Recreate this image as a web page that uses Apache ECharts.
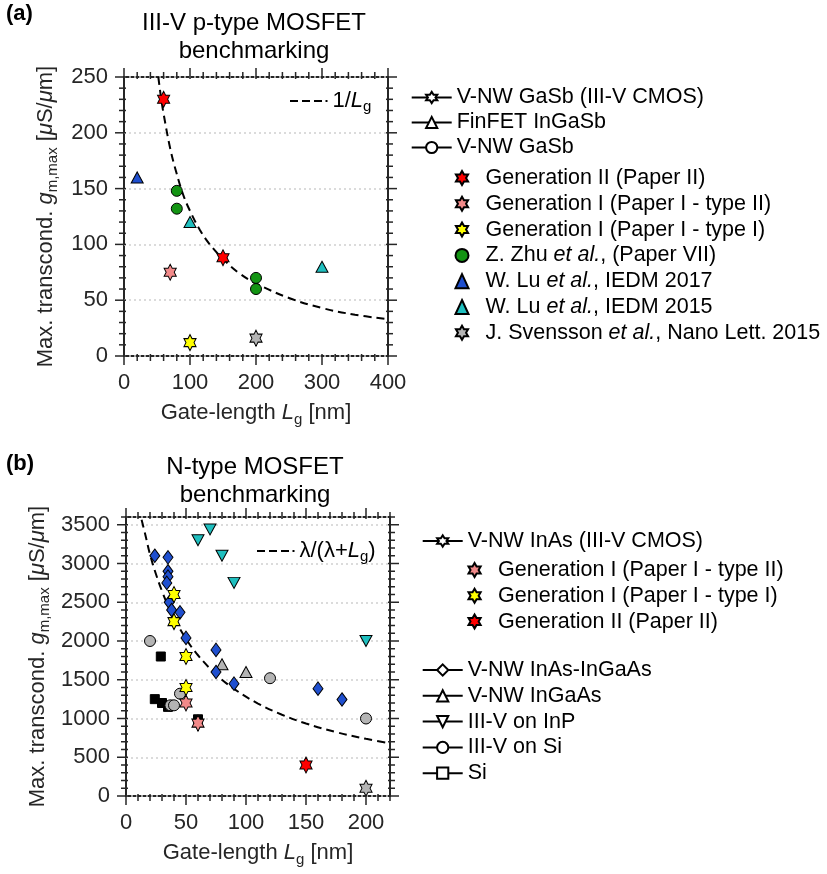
<!DOCTYPE html>
<html>
<head>
<meta charset="utf-8">
<script src="https://cdn.jsdelivr.net/npm/echarts@6/dist/echarts.min.js"></script>
<style>
  html, body { margin: 0; padding: 0; background: #fff; }
  #chart { width: 827px; height: 874px; }
</style>
</head>
<body>
<div id="chart"></div>
<script>
// ---------- Panel (a): III-V p-type MOSFETs, [Lg (nm), gm,max (uS/um)] ----------
const aGenII      = [[60, 230], [150, 88]];
const aGenIType2  = [[70, 75]];
const aGenIType1  = [[100, 12]];
const aZhu        = [[80, 148], [80, 132], [200, 70], [200, 60]];
const aLu2017     = [[20, 160]];
const aLu2015     = [[100, 120], [300, 80]];
const aSvensson   = [[200, 16]];
const aTrendLg    = [52, 56, 60, 70, 80, 90, 100, 115, 130, 150, 175, 200, 250, 300, 350, 400];
const aTrendGm    = [250, 232, 217, 186, 163, 144, 130, 113, 100, 87, 74, 65, 52, 43, 37, 33];
const aXTicks     = [0, 100, 200, 300, 400];
const aYTicks     = [0, 50, 100, 150, 200, 250];

// ---------- Panel (b): N-type MOSFETs ----------
const bGenIType2   = [[50, 1200], [60, 940]];
const bGenIType1   = [[40, 2600], [40, 2250], [50, 1800], [50, 1400]];
const bGenII       = [[150, 400]];
const bSvensson    = [[200, 100]];
const bInAsInGaAs  = [[24, 3100], [35, 3080], [35, 2900], [35, 2830], [34, 2750], [36, 2500],
                      [38, 2400], [45, 2370], [50, 2040], [75, 1885], [75, 1600], [90, 1450],
                      [160, 1385], [180, 1245]];
const bInGaAs      = [[80, 1700], [100, 1600]];
const bInP         = [[60, 3300], [70, 3440], [80, 3100], [90, 2750], [200, 2000]];
const bOnSi        = [[20, 2000], [37, 1170], [40, 1170], [45, 1320], [120, 1520], [200, 1000]];
const bSi          = [[29, 1800], [24, 1250], [30, 1200], [35, 1150], [60, 990]];
const bTrendLg     = [13, 16, 20, 25, 30, 35, 40, 50, 60, 75, 90, 110, 130, 150, 175, 200, 220];
const bTrendGm     = [3565, 3378, 3118, 2862, 2644, 2457, 2295, 2028, 1816, 1570, 1383, 1193, 1049, 936, 825, 738, 680];
const bXTicks      = [0, 50, 100, 150, 200];
const bYTicks      = [0, 500, 1000, 1500, 2000, 2500, 3000, 3500];

// ---------- styling ----------
const FONT = '"Liberation Sans", Arial, Helvetica, sans-serif';
const INK = '#262626';
const HEXAGRAM = 'path://M866 0L1155 500L1732 500L1443 1000L1732 1500L1155 1500L866 2000L577 1500L0 1500L289 1000L0 500L577 500Z';
const DASHES = 'path://M0 0H8V2H0Z M12 0H20V2H12Z M24 0H32V2H24Z M35.5 0H37.5V2H35.5Z';

const RED = '#ff0000', PINK = '#f28a8a', YELLOW = '#ffff00', GREEN = '#139413',
      BLUE = '#1f4fcf', CYAN = '#1fbfbf', GRAY = '#b4b4b4', BLACK = '#000000';

const pairs = (xs, ys) => xs.map((x, i) => [x, ys[i]]);
const steps = (lo, hi, step) => { const out = []; for (let v = lo; v <= hi + 1e-9; v += step) out.push(v); return out; };

const richBase = {
  t: { fontSize: 22, fontFamily: FONT, color: INK, lineHeight: 28 },
  i: { fontSize: 22, fontFamily: FONT, color: INK, fontStyle: 'italic', lineHeight: 28 },
  s: { fontSize: 15, fontFamily: FONT, color: INK, lineHeight: 16, verticalAlign: 'bottom' }
};

// Axes: one labelled x/y pair per panel; the frame comes from the grid border,
// tick marks are drawn on all four sides by a custom series (see boxTicks).
function panelAxes(grid, xr, yr) {
  const lbl = { color: INK, fontSize: 22, fontFamily: FONT, margin: 16, formatter: (v) => String(v) };
  return {
    x: {
      type: 'value', gridIndex: grid, position: 'bottom', min: xr.min, max: xr.max,
      interval: xr.ticks[1] - xr.ticks[0],
      axisLine: { show: false }, axisTick: { show: false },
      axisLabel: Object.assign({ customValues: xr.ticks }, lbl),
      splitLine: { show: false },
      name: '{t|Gate-length }{i|L}{s|g}{t| [nm]}', nameLocation: 'middle', nameGap: xr.nameGap,
      nameTextStyle: { rich: richBase }
    },
    y: {
      type: 'value', gridIndex: grid, position: 'left', min: yr.min, max: yr.max,
      interval: yr.ticks[1] - yr.ticks[0],
      axisLine: { show: false }, axisTick: { show: false },
      axisLabel: Object.assign({ customValues: yr.ticks }, lbl),
      splitLine: { show: true, lineStyle: { color: '#cfcfcf', width: 1.5, type: [2, 3] } },
      name: '{t|Max. transcond. }{i|g}{s|m,max}{t| [}{i|\u03bc}{t|S/}{i|\u03bc}{t|m]}',
      nameLocation: 'middle', nameGap: yr.nameGap, nameTextStyle: { rich: richBase }
    }
  };
}

const rangeA = { x: { min: 0, max: 400, ticks: aXTicks, minor: 20, nameGap: 43 },
                 y: { min: 0, max: 250, ticks: aYTicks, minor: 10, nameGap: 64 } };
const rangeB = { x: { min: 0, max: 220, ticks: bXTicks, minor: 10, nameGap: 43 },
                 y: { min: 0, max: 3600, ticks: bYTicks, minor: 100, nameGap: 74 } };
const axA = panelAxes(0, rangeA.x, rangeA.y);
const axB = panelAxes(1, rangeB.x, rangeB.y);

// tick marks on the four sides of a panel frame; item = [x, y, length, direction]
function boxTicks(panel, r) {
  const items = [];
  const MAJOR = 9, MINOR = 5;
  steps(r.x.min, r.x.max, r.x.minor).forEach((v) =>
    items.push([v, r.y.min, r.x.ticks.includes(v) ? MAJOR : MINOR, 0]));
  steps(r.y.min, r.y.max, r.y.minor).forEach((v) =>
    items.push([r.x.min, v, r.y.ticks.includes(v) ? MAJOR : MINOR, 1]));
  const IN = 2;
  return {
    type: 'custom', name: 'frame ticks ' + panel, coordinateSystem: 'cartesian2d',
    xAxisIndex: panel === 'a' ? 0 : 1, yAxisIndex: panel === 'a' ? 0 : 1,
    data: items, silent: true, clip: false, z: 5, encode: { x: 0, y: 1 },
    renderItem: (params, api) => {
      const len = api.value(2), dir = api.value(3);
      const style = { stroke: INK, lineWidth: 1.5 };
      if (dir === 0) {
        const v = api.value(0);
        const b = api.coord([v, r.y.min]), t = api.coord([v, r.y.max]);
        return { type: 'group', children: [
          { type: 'line', shape: { x1: b[0], y1: b[1] - IN, x2: b[0], y2: b[1] + len }, style },
          { type: 'line', shape: { x1: t[0], y1: t[1] + IN, x2: t[0], y2: t[1] - len }, style }
        ] };
      }
      const v = api.value(1);
      const l = api.coord([r.x.min, v]), rt = api.coord([r.x.max, v]);
      return { type: 'group', children: [
        { type: 'line', shape: { x1: l[0] + IN, y1: l[1], x2: l[0] - len, y2: l[1] }, style },
        { type: 'line', shape: { x1: rt[0] - IN, y1: rt[1], x2: rt[0] + len, y2: rt[1] }, style }
      ] };
    }
  };
}

function scatter(name, data, panel, symbol, size, color, extra) {
  return Object.assign({
    name, type: 'scatter', data,
    xAxisIndex: panel === 'a' ? 0 : 1, yAxisIndex: panel === 'a' ? 0 : 1,
    symbol, symbolSize: size, symbolKeepAspect: true,
    itemStyle: { color, borderColor: '#000', borderWidth: 1, opacity: 1 },
    emphasis: { disabled: true }
  }, extra || {});
}
function header(name, symbol, extra) {
  return Object.assign({
    name, type: 'line', data: [], xAxisIndex: 0, yAxisIndex: 0, symbol,
    itemStyle: { color: '#fff', borderColor: '#000', borderWidth: 1.5 },
    lineStyle: { color: '#000', width: 2 }
  }, extra || {});
}
function trend(name, data, panel) {
  return {
    name, type: 'line', data, xAxisIndex: panel === 'a' ? 0 : 1, yAxisIndex: panel === 'a' ? 0 : 1,
    symbol: 'none', smooth: 0.4, z: 1,
    itemStyle: { color: '#000' },
    lineStyle: { color: '#000', width: 2, type: [8, 5] }
  };
}

const STAR = [14, 16], DIAMOND = [10, 13.5], TRI = [12, 11];

const series = [
  trend('1/Lg', pairs(aTrendLg, aTrendGm), 'a'),
  trend('lambda', pairs(bTrendLg, bTrendGm), 'b'),
  boxTicks('a', rangeA),
  boxTicks('b', rangeB),
  // legend-only header entries
  header('V-NW GaSb (III-V CMOS)', HEXAGRAM),
  header('FinFET InGaSb', 'triangle'),
  header('V-NW GaSb', 'circle'),
  header('V-NW InAs (III-V CMOS)', HEXAGRAM),
  header('V-NW InAs-InGaAs', 'diamond'),
  header('V-NW InGaAs', 'triangle'),
  header('III-V on InP', 'triangle', { symbolRotate: 180 }),
  header('III-V on Si', 'circle'),
  header('Si', 'rect'),
  // panel (a)
  scatter('J. Svensson et al., Nano Lett. 2015', aSvensson, 'a', HEXAGRAM, STAR, GRAY),
  scatter('W. Lu et al., IEDM 2015', aLu2015, 'a', 'triangle', TRI, CYAN),
  scatter('W. Lu et al., IEDM 2017', aLu2017, 'a', 'triangle', TRI, BLUE),
  scatter('Z. Zhu et al., (Paper VII)', aZhu, 'a', 'circle', 11, GREEN),
  scatter('Generation I (Paper I - type I)', aGenIType1, 'a', HEXAGRAM, STAR, YELLOW),
  scatter('Generation I (Paper I - type II)', aGenIType2, 'a', HEXAGRAM, STAR, PINK),
  scatter('Generation II (Paper II)', aGenII, 'a', HEXAGRAM, STAR, RED),
  // panel (b)
  scatter('Si (b)', bSi, 'b', 'rect', 9, BLACK),
  scatter('III-V on Si (b)', bOnSi, 'b', 'circle', 11, GRAY),
  scatter('V-NW InGaAs (b)', bInGaAs, 'b', 'triangle', TRI, GRAY),
  scatter('III-V on InP (b)', bInP, 'b', 'triangle', TRI, CYAN, { symbolRotate: 180 }),
  scatter('V-NW InAs-InGaAs (b)', bInAsInGaAs, 'b', 'diamond', DIAMOND, BLUE),
  scatter('J. Svensson et al., Nano Lett. 2015', bSvensson, 'b', HEXAGRAM, STAR, GRAY),
  scatter('Generation I (Paper I - type I)', bGenIType1, 'b', HEXAGRAM, STAR, YELLOW),
  scatter('Generation I (Paper I - type II)', bGenIType2, 'b', HEXAGRAM, STAR, PINK),
  scatter('Generation II (Paper II)', bGenII, 'b', HEXAGRAM, STAR, RED)
];

const legText = {
  fontSize: 21.5, fontFamily: FONT, color: '#000', lineHeight: 22,
  rich: {
    it: { fontSize: 21.5, fontFamily: FONT, color: '#000', fontStyle: 'italic', lineHeight: 22 },
    pad: { width: 12, lineHeight: 22 },
    t: { fontSize: 22, fontFamily: FONT, color: '#000', lineHeight: 26 },
    i: { fontSize: 22, fontFamily: FONT, color: '#000', fontStyle: 'italic', lineHeight: 26 },
    s: { fontSize: 15, fontFamily: FONT, color: '#000', lineHeight: 14, verticalAlign: 'bottom' }
  }
};
const italicEtAl = (name) => name.replace('et al.', '{it|et al.}');
const legendCommon = { orient: 'vertical', selectedMode: false, padding: 0, textStyle: legText };

const legends = [
  Object.assign({}, legendCommon, {
    left: 410.7, top: 86.5, itemWidth: 40, itemHeight: 14, itemGap: 3,
    data: ['V-NW GaSb (III-V CMOS)', 'FinFET InGaSb', 'V-NW GaSb']
  }),
  Object.assign({}, legendCommon, {
    left: 454.5, top: 167, itemWidth: 13, itemHeight: 14, itemGap: 3.8,
    formatter: (n) => '{pad|}' + italicEtAl(n),
    data: ['Generation II (Paper II)', 'Generation I (Paper I - type II)',
           'Generation I (Paper I - type I)', 'Z. Zhu et al., (Paper VII)',
           'W. Lu et al., IEDM 2017', 'W. Lu et al., IEDM 2015',
           'J. Svensson et al., Nano Lett. 2015']
  }),
  Object.assign({}, legendCommon, {
    left: 290, top: 88, itemWidth: 37.5, itemHeight: 2,
    formatter: () => '{t|1/}{i|L}{s|g}',
    data: [{ name: '1/Lg', icon: DASHES }]
  }),
  Object.assign({}, legendCommon, {
    left: 421.7, top: 530, itemWidth: 40, itemHeight: 14,
    data: ['V-NW InAs (III-V CMOS)']
  }),
  Object.assign({}, legendCommon, {
    left: 467.5, top: 559, itemWidth: 13, itemHeight: 14, itemGap: 3.8,
    formatter: (n) => '{pad|}' + n,
    data: ['Generation I (Paper I - type II)', 'Generation I (Paper I - type I)', 'Generation II (Paper II)']
  }),
  Object.assign({}, legendCommon, {
    left: 421.7, top: 659, itemWidth: 40, itemHeight: 14, itemGap: 3.8,
    data: ['V-NW InAs-InGaAs', 'V-NW InGaAs', 'III-V on InP', 'III-V on Si', 'Si']
  }),
  Object.assign({}, legendCommon, {
    left: 257, top: 538, itemWidth: 37.5, itemHeight: 2,
    formatter: () => '{t|\u03bb/(\u03bb+}{i|L}{s|g}{t|)}',
    data: [{ name: 'lambda', icon: DASHES }]
  })
];

const titleFont = (size, weight) => `${weight} ${size}px ${FONT}`;
const graphic = [
  { type: 'text', x: 6, y: 3, style: { text: '(a)', font: titleFont(22, 'bold'), fill: '#000' } },
  { type: 'text', x: 254, y: 9, style: { text: 'III-V p-type MOSFET\nbenchmarking', font: titleFont(24, 'normal'),
    lineHeight: 28, fill: '#000', align: 'center' } },
  { type: 'text', x: 6, y: 453, style: { text: '(b)', font: titleFont(22, 'bold'), fill: '#000' } },
  { type: 'text', x: 255, y: 453, style: { text: 'N-type MOSFET\nbenchmarking', font: titleFont(24, 'normal'),
    lineHeight: 28, fill: '#000', align: 'center' } }
];

const frame = { show: true, borderColor: INK, borderWidth: 2, backgroundColor: 'transparent' };
const chart = echarts.init(document.getElementById('chart'), null, { renderer: 'canvas' });
chart.setOption({
  animation: false,
  backgroundColor: '#fff',
  grid: [
    Object.assign({ left: 124, top: 77, width: 264, height: 279 }, frame),
    Object.assign({ left: 126, top: 517, width: 264, height: 279 }, frame)
  ],
  xAxis: [axA.x, axB.x],
  yAxis: [axA.y, axB.y],
  legend: legends,
  graphic,
  series
});
</script>
</body>
</html>
